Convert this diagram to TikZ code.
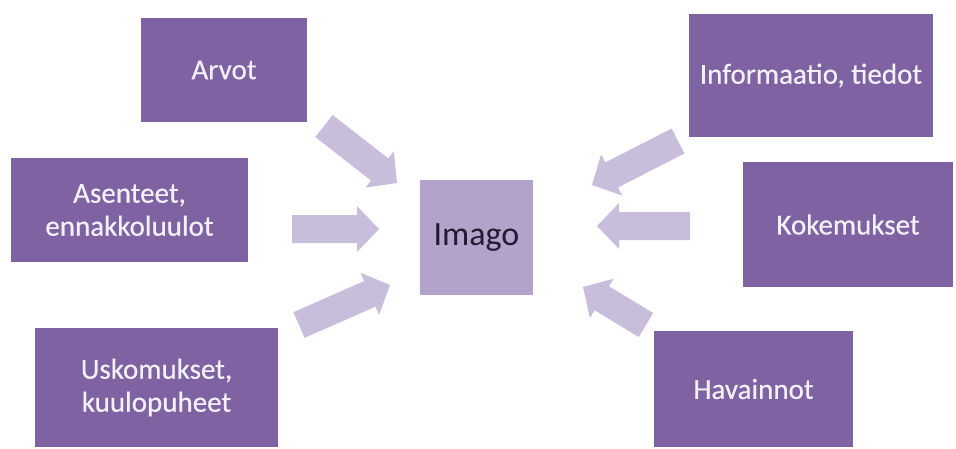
\documentclass[tikz,border=0pt]{standalone}
\usepackage{fontspec}
\setmainfont{Carlito}
\newfontfamily\labelfont[FakeBold=0.4]{Carlito}
\usetikzlibrary{calc}

\definecolor{boxpurple}{HTML}{7E62A2}
\definecolor{boxtext}{HTML}{F4F0F8}
\definecolor{centerfill}{HTML}{B3A2CA}
\definecolor{centertext}{HTML}{221A33}
\definecolor{arrowlilac}{HTML}{C8BEDC}

\tikzset{
  factor/.style={rectangle, fill=boxpurple, text=boxtext, align=center,
    font=\labelfont\fontsize{29}{33}\selectfont, inner sep=0pt},
  hub/.style={rectangle, fill=centerfill, text=centertext,
    font=\fontsize{34}{40}\selectfont, inner sep=0pt},
  arrowbody/.style={fill=arrowlilac}
}

% block arrow from tail coordinate #1 to tip coordinate #2
\newcommand{\fatarrow}[2]{%
  \coordinate (hb) at ($(#2)!22pt!(#1)$);
  \fill[arrowbody] ($(#1)!14pt!90:(#2)$) -- ($(hb)!14pt!90:(#2)$)
    -- ($(hb)!23pt!90:(#2)$) -- (#2) -- ($(hb)!23pt!-90:(#2)$)
    -- ($(hb)!14pt!-90:(#2)$) -- ($(#1)!14pt!-90:(#2)$) -- cycle;
}

\begin{document}
\begin{tikzpicture}[x=1pt,y=-1pt]
  \useasboundingbox (0,0) rectangle (956,448);
  \fill[white] (0,0) rectangle (956,448);

  % central concept
  \node[hub, minimum width=113pt, minimum height=115pt] (imago) at (476.5,237.5) {Imago};

  % influencing factors
  \node[factor, minimum width=166pt, minimum height=104pt] (arvot) at (224,70) {Arvot};
  \node[factor, minimum width=237pt, minimum height=104pt] (asenteet) at (129.5,210) {Asenteet,\\ennakkoluulot};
  \node[factor, minimum width=243pt, minimum height=119pt] (uskomukset) at (156.5,387.5) {Uskomukset,\\kuulopuheet};
  \node[factor, minimum width=244pt, minimum height=123pt] (info) at (811,75.5) {Informaatio, tiedot};
  \node[factor, minimum width=210pt, minimum height=125pt] (kokemukset) at (848,224.5) {Kokemukset};
  \node[factor, minimum width=199pt, minimum height=116pt] (havainnot) at (753.5,389) {Havainnot};

  % arrow tails and tips
  \coordinate (t1) at (324,126);  \coordinate (p1) at (397,183);
  \coordinate (t2) at (292,229);  \coordinate (p2) at (379,229);
  \coordinate (t3) at (299,325);  \coordinate (p3) at (390,285);
  \coordinate (t4) at (678,141);  \coordinate (p4) at (592,185);
  \coordinate (t5) at (690,226);  \coordinate (p5) at (597,226);
  \coordinate (t6) at (646,325);  \coordinate (p6) at (583,287);

  \fatarrow{t1}{p1}
  \fatarrow{t2}{p2}
  \fatarrow{t3}{p3}
  \fatarrow{t4}{p4}
  \fatarrow{t5}{p5}
  \fatarrow{t6}{p6}
\end{tikzpicture}
\end{document}
